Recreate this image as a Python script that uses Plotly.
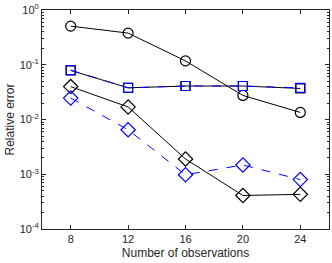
import plotly.graph_objects as go

n_obs = [8, 12, 16, 20, 24]
circ_black = [0.51, 0.38, 0.118, 0.0276, 0.0135]
sq_black = [0.079, 0.038, 0.041, 0.041, 0.037]
sq_blue = [0.080, 0.038, 0.041, 0.041, 0.038]
dia_black = [0.040, 0.017, 0.0019, 0.00041, 0.00043]
dia_blue = [0.0247, 0.0065, 0.00098, 0.00148, 0.00080]

y_tickvals = [1e-4, 1e-3, 1e-2, 1e-1, 1]
y_ticktext = ["10<sup>-4</sup>", "10<sup>-3</sup>", "10<sup>-2</sup>", "10<sup>-1</sup>", "10<sup>0</sup>"]
x_tickvals = [8, 12, 16, 20, 24]

fig = go.Figure()

def add(y, sym, color, dash, size):
    fig.add_trace(go.Scatter(
        x=n_obs, y=y, mode="lines+markers",
        line=dict(color=color, width=1, dash=dash),
        marker=dict(symbol=sym, size=size, color=color,
                    line=dict(color=color, width=1.2)),
        showlegend=False))

add(circ_black, "circle-open", "black", "solid", 10)
add(sq_black, "square-open", "black", "solid", 9)
add(dia_black, "diamond-open", "black", "solid", 11)
add(dia_blue, "diamond-open", "#0000ff", "dash", 11)
add(sq_blue, "square-open", "#0000ff", "dash", 9)

axis_common = dict(
    showgrid=False, zeroline=False, showline=True, linecolor="#262626",
    linewidth=1, mirror="ticks", ticks="inside", tickcolor="#262626",
    ticklen=4, tickwidth=1,
    tickfont=dict(family="Liberation Sans, Arial", size=11, color="#262626"),
)

fig.update_xaxes(range=[6, 26], tickvals=x_tickvals,
                 title=dict(text="Number of observations", standoff=4,
                            font=dict(family="Liberation Sans, Arial", size=12, color="#262626")),
                 **axis_common)
fig.update_yaxes(type="log", range=[-4, 0.002], tickvals=y_tickvals, ticktext=y_ticktext,
                 ticklabeloverflow="allow",
                 minor=dict(ticks="inside", ticklen=2, dtick="D1", tickcolor="#262626", showgrid=False),
                 title=dict(text="Relative error", standoff=2,
                            font=dict(family="Liberation Sans, Arial", size=12, color="#262626")),
                 **axis_common)

fig.update_layout(
    width=332, height=263,
    margin=dict(l=42, r=2, t=5, b=34),
    paper_bgcolor="white", plot_bgcolor="white",
)

fig.write_html("out.html", config={"displayModeBar": False},
               post_script="document.body.style.margin='0';")
